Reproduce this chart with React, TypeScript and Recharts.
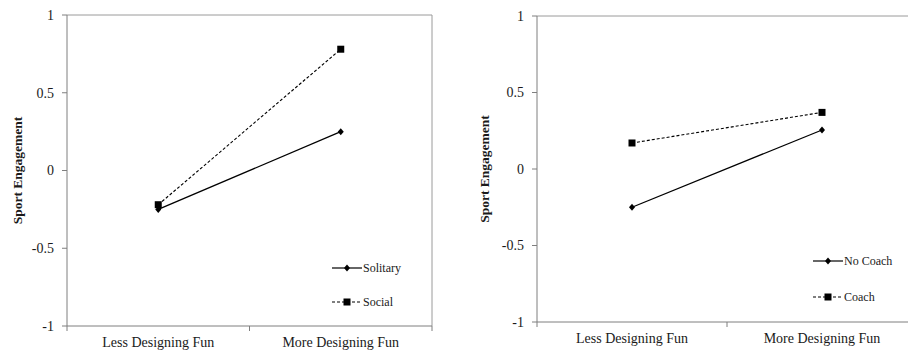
import React from "react";
import {
  LineChart,
  Line,
  XAxis,
  YAxis,
  Legend,
  ReferenceLine,
} from "recharts";

const categories = ["Less Designing Fun", "More Designing Fun"];
const solitary = [-0.25, 0.25];
const social = [-0.22, 0.78];
const noCoach = [-0.25, 0.255];
const coach = [0.17, 0.37];
const yTicks = [-1, -0.5, 0, 0.5, 1];
const xTicks = [0, 0.5, 1, 1.5, 2];

const FONT = '"Liberation Serif", "Times New Roman", serif';
const AXIS = "#7f7f7f";
const BORDER = "#9a9a9a";

const Diamond = (props: any) => {
  const { cx, cy } = props;
  if (cx == null || cy == null) return null;
  return (
    <polygon
      points={`${cx},${cy - 3.5} ${cx + 3},${cy} ${cx},${cy + 3.5} ${cx - 3},${cy}`}
      fill="#000"
    />
  );
};

const Square = (props: any) => {
  const { cx, cy } = props;
  if (cx == null || cy == null) return null;
  return <rect x={cx - 3.5} y={cy - 3.5} width={7} height={7} fill="#000" />;
};

const XTick = (props: any) => {
  const { x, y, payload } = props;
  const v = payload.value as number;
  if (Number.isInteger(v)) {
    return <line x1={x} x2={x} y1={y} y2={y + 5} stroke={AXIS} />;
  }
  return (
    <text
      x={x}
      y={y + 21}
      textAnchor="middle"
      fontFamily={FONT}
      fontSize={14}
      fill="#1a1a1a"
    >
      {categories[Math.floor(v)]}
    </text>
  );
};

type Series = { name: string; values: number[]; dashed: boolean; marker: "diamond" | "square" };

function LegendBox({ items, rowH }: { items: Series[]; rowH: number }) {
  return (
    <div style={{ fontFamily: FONT, fontSize: 12, color: "#1a1a1a" }}>
      {items.map((s) => (
        <div
          key={s.name}
          style={{ display: "flex", alignItems: "center", height: rowH, whiteSpace: "nowrap" }}
        >
          <svg width={30} height={10} style={{ display: "block" }}>
            <line
              x1={0}
              x2={30}
              y1={5}
              y2={5}
              stroke="#000"
              strokeWidth={1.2}
              strokeDasharray={s.dashed ? "3 2" : undefined}
            />
            {s.marker === "diamond" ? (
              <polygon points="15,1.5 18,5 15,8.5 12,5" fill="#000" />
            ) : (
              <rect x={11.5} y={1.5} width={7} height={7} fill="#000" />
            )}
          </svg>
          <span style={{ marginLeft: 1 }}>{s.name}</span>
        </div>
      ))}
    </div>
  );
}

function Panel({
  width,
  yAxisWidth,
  top,
  right,
  bottom,
  labelX,
  series,
  legendLeft,
  legendTop,
  rowH,
}: {
  width: number;
  yAxisWidth: number;
  top: number;
  right: number;
  bottom: number;
  labelX: number;
  series: Series[];
  legendLeft: number;
  legendTop: number;
  rowH: number;
}) {
  const data = categories.map((c, i) => ({
    pos: i + 0.5,
    name: c,
    s0: series[0].values[i],
    s1: series[1].values[i],
  }));

  return (
    <LineChart
      width={width}
      height={352}
      data={data}
      margin={{ top, right, bottom: 0, left: 0 }}
    >
      <XAxis
        dataKey="pos"
        type="number"
        domain={[0, 2]}
        ticks={xTicks}
        tick={<XTick />}
        tickLine={false}
        tickSize={0}
        tickMargin={0}
        interval={0}
        height={bottom}
        axisLine={{ stroke: AXIS }}
      />
      <YAxis
        type="number"
        domain={[-1, 1]}
        ticks={yTicks}
        interval={0}
        width={yAxisWidth}
        tickSize={5}
        tickMargin={8}
        tickLine={{ stroke: AXIS }}
        axisLine={{ stroke: AXIS }}
        tick={{ fontFamily: FONT, fontSize: 14, fill: "#1a1a1a" }}
        label={{
          content: (p: any) => {
            const vb = p.viewBox || {};
            const cy = (vb.y ?? 0) + (vb.height ?? 0) / 2;
            return (
              <text
                x={labelX}
                y={cy}
                transform={`rotate(-90, ${labelX}, ${cy})`}
                textAnchor="middle"
                dominantBaseline="central"
                fontFamily={FONT}
                fontSize={13.5}
                fontWeight="bold"
                fill="#1a1a1a"
              >
                Sport Engagement
              </text>
            );
          },
        }}
      />
      <ReferenceLine y={1} stroke={BORDER} ifOverflow="extendDomain" />
      <ReferenceLine x={2} stroke={BORDER} ifOverflow="extendDomain" />
      <Line
        dataKey="s0"
        name={series[0].name}
        stroke="#000"
        strokeWidth={1.3}
        dot={series[0].marker === "diamond" ? <Diamond /> : <Square />}
        activeDot={false}
        isAnimationActive={false}
      />
      <Line
        dataKey="s1"
        name={series[1].name}
        stroke="#000"
        strokeWidth={1.1}
        strokeDasharray="3 2"
        dot={series[1].marker === "diamond" ? <Diamond /> : <Square />}
        activeDot={false}
        isAnimationActive={false}
      />
      <Legend
        layout="horizontal"
        verticalAlign="middle"
        align="center"
        wrapperStyle={{ left: legendLeft, top: legendTop, width: "auto", height: "auto" }}
        content={() => <LegendBox items={series} rowH={rowH} />}
      />
    </LineChart>
  );
}

export default function App() {
  return (
    <div
      style={{
        position: "absolute",
        left: 0,
        top: 0,
        width: 908,
        height: 352,
        background: "#fff",
        overflow: "hidden",
      }}
    >
      <div style={{ position: "absolute", left: 0, top: 0 }}>
        <Panel
          width={460}
          yAxisWidth={67}
          top={15}
          right={28}
          bottom={26}
          labelX={17}
          series={[
            { name: "Solitary", values: solitary, dashed: false, marker: "diamond" },
            { name: "Social", values: social, dashed: true, marker: "square" },
          ]}
          legendLeft={332}
          legendTop={251}
          rowH={34}
        />
      </div>
      <div style={{ position: "absolute", left: 460, top: 0, width: 448, overflow: "hidden" }}>
        {/* the right panel is cut off by the picture edge, so its plot runs past 908 */}
        <Panel
          width={448}
          yAxisWidth={77}
          top={16}
          right={-9}
          bottom={30}
          labelX={24}
          series={[
            { name: "No Coach", values: noCoach, dashed: false, marker: "diamond" },
            { name: "Coach", values: coach, dashed: true, marker: "square" },
          ]}
          legendLeft={353}
          legendTop={243}
          rowH={36}
        />
      </div>
    </div>
  );
}
